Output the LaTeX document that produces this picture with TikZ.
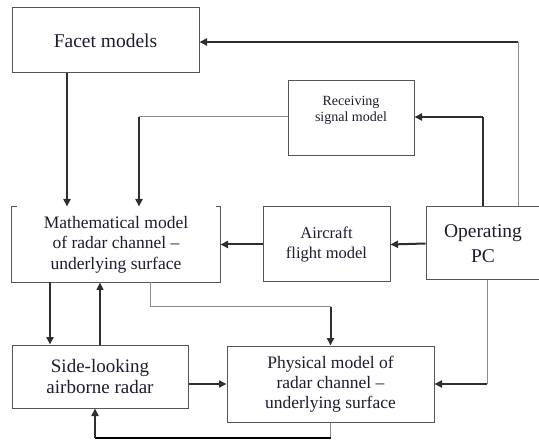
\documentclass[tikz,border=0pt]{standalone}
\usepackage{fontspec}
\setmainfont{Liberation Serif}
\usepackage{xcolor}
\usepackage{tikz}
\usetikzlibrary{arrows.meta, positioning}
\definecolor{boxgray}{HTML}{555555}
\definecolor{linedark}{HTML}{2e2e2e}
\definecolor{linegray}{HTML}{8c8c8c}
\definecolor{textdark}{HTML}{1c1c30}

\begin{document}
\begin{tikzpicture}[x=1pt, y=-1pt,
    box/.style={draw=boxgray, line width=1pt, align=center, inner sep=0pt, text=textdark},
    line/.style={draw=linedark, line width=2pt},
    link/.style={draw=linegray, line width=1pt},
    >={Triangle[length=7.5pt, width=7pt]}]
    \useasboundingbox (0,0) rectangle (539,441);

    \node[box, minimum width=187pt, minimum height=65pt, font=\fontsize{19.5}{23}\selectfont] (facet) at (105.5,40.5) {Facet models};
    \node[box, minimum width=126pt, minimum height=75pt, font=\fontsize{14}{16}\selectfont] (recv) at (351,118.5) {Receiving\\signal model\\[4pt]};
    \node[box, draw=none, minimum width=208pt, minimum height=75pt, font=\fontsize{17.5}{20.5}\selectfont] (math) at (116,244.5) {Mathematical model\\of radar channel --\\underlying surface};
    \node[box, minimum width=127pt, minimum height=75pt, font=\fontsize{16.5}{20}\selectfont] (air) at (326.5,244.5) {Aircraft\\flight model};
    \node[box, minimum width=114pt, minimum height=73pt, font=\fontsize{19.5}{25}\selectfont] (op) at (483,243.5) {Operating\\PC};
    \node[box, minimum width=176pt, minimum height=63pt, font=\fontsize{19}{21}\selectfont] (side) at (100,376.5) {Side-looking\\airborne radar};
    \node[box, minimum width=207pt, minimum height=76pt, font=\fontsize{17.5}{20}\selectfont] (phys) at (330.5,384) {Physical model of\\radar channel --\\underlying surface};

    % bracket-like frame of the mathematical model
    \draw[draw=boxgray, line width=1pt] ([xshift=5pt]math.north west) -- (math.north west) -- (math.south west)
        -- (math.south east) -- (math.north east) -- ([xshift=-5pt]math.north east);

    \coordinate (fbend) at (518,42);
    \coordinate (rbend) at (483,117);
    \coordinate (mbend) at (139,117);
    \coordinate (pbend) at (150,307);
    \coordinate (obend) at (487,384);
    \coordinate (sbend) at (95,438);

    % operating PC to the models above
    \draw[link] (op.north -| fbend) -- (fbend);
    \draw[line, ->] (fbend) -- (facet.east |- fbend);
    \draw[link, draw=linedark, line width=1.3pt] (op.north -| rbend) -- (rbend);
    \draw[line, ->] (rbend) -- (recv.east |- rbend);
    \draw[link] (recv.west |- mbend) -- (mbend);
    \draw[line, ->] (mbend) -- (mbend |- math.north);
    \draw[line, ->] ([xshift=-38.5pt]facet.south) -- ([xshift=-38.5pt]facet.south |- math.north);

    \draw[line, ->] (op.west) -- (air.east);
    \draw[line, ->] (air.west) -- (math.east);

    % radar and channel models
    \draw[line, ->] ([xshift=-66pt]math.south) -- ([xshift=-66pt]math.south |- side.north);
    \draw[line, line width=1.5pt, ->] (side.north) -- (side.north |- math.south);
    \draw[link] (math.south -| pbend) -- (pbend) -- (pbend -| phys.north);
    \draw[line, ->] (pbend -| phys.north) -- (phys.north);
    \draw[line, ->] (side.east |- phys.west) -- (phys.west);
    \draw[link] (op.south -| obend) -- (obend);
    \draw[line, ->] (obend) -- (phys.east);
    \draw[link] (phys.south) -- (phys.south |- sbend);
    \draw[line, draw=black, line width=2.5pt] (phys.south |- sbend) -- (sbend);
    \draw[line, ->] (sbend) -- (sbend |- side.south);
\end{tikzpicture}
\end{document}
